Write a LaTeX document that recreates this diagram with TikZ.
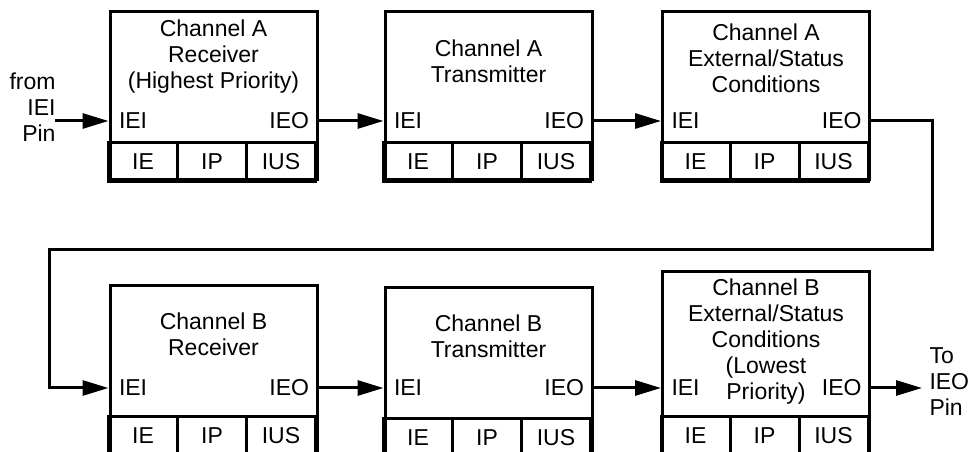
\documentclass[tikz,border=0pt]{standalone}
\usepackage{fontspec}
\setmainfont{Liberation Sans}
\usetikzlibrary{arrows.meta,positioning}

\begin{document}
\begin{tikzpicture}[x=1pt,y=1pt,line width=3pt,
		every node/.style={font=\fontsize{23}{26}\selectfont},
		>={Triangle[length=26pt,width=15pt]}]
		\tikzstyle{block}=[draw, minimum width=207pt, minimum height=168pt, inner sep=0pt]
		\tikzstyle{cell}=[draw, minimum width=69pt, minimum height=39pt, inner sep=0pt, outer sep=0pt]
		\tikzstyle{title}=[align=center, inner sep=0pt]
		\tikzstyle{port}=[inner sep=0pt]
		
		\useasboundingbox (0,0) rectangle (969,452);
		\coordinate (rowA) at (0,331);
		\coordinate (rowB) at (0,64);
		
		\node[block] (ra) at (213.5,356) {};
		\node[block] (ta) at (488.5,356) {};
		\node[block] (sa) at (766,356) {};
		\node[block] (rb) at (213.5,82) {};
		\node[block] (tb) at (488.5,80) {};
		\node[block, minimum height=182pt] (sb) at (766,89) {};
		
		\node[title] (ra-t) at (213.5,395) {Channel A\\Receiver\\(Highest Priority)};
		\node[title] (ta-t) at (488.5,391) {Channel A\\Transmitter};
		\node[title] (sa-t) at (766,394) {Channel A\\External/Status\\Conditions};
		\node[title] (rb-t) at (213.5,118) {Channel B\\Receiver};
		\node[title] (tb-t) at (488.5,115.5) {Channel B\\Transmitter};
		\node[title] (sb-t) at (766,110) {Channel B\\External/Status\\Conditions\\(Lowest\\Priority)};
		
		\foreach \b in {ra,ta,sa,rb,tb,sb} {
			\node[cell, anchor=south west] (\b-ie) at (\b.south west) {IE};
			\node[cell, right=0pt of \b-ie] (\b-ip) {IP};
			\node[cell, right=0pt of \b-ip] (\b-ius) {IUS};
		}
		
		\foreach \b in {ra,ta,sa} {
			\coordinate (\b-in) at (\b.west |- rowA);
			\coordinate (\b-out) at (\b.east |- rowA);
		}
		\foreach \b in {rb,tb,sb} {
			\coordinate (\b-in) at (\b.west |- rowB);
			\coordinate (\b-out) at (\b.east |- rowB);
		}
		\foreach \b in {ra,ta,sa,rb,tb,sb} {
			\path (\b-in) node[port, right=9pt] (\b-iei) {IEI};
			\path (\b-out) node[port, left=8pt] (\b-ieo) {IEO};
		}
		
		\node[port, align=right, anchor=east] (src) at (57,345) {from\\IEI\\Pin};
		\node[port, align=left, anchor=west] (dst) at (928,70) {To\\IEO\\Pin};
		\coordinate (src-out) at (55,331);
		\coordinate (dst-in) at (922,64);
		\coordinate (turnR) at (932,202);
		\coordinate (turnL) at (49,202);
		
		\path[->]
		(src-out) edge (ra-in)
		(ra-out)  edge (ta-in)
		(ta-out)  edge (sa-in)
		(rb-out)  edge (tb-in)
		(tb-out)  edge (sb-in)
		(sb-out)  edge (dst-in)
		;
		\draw[->] (sa-out) -| (turnR) -- (turnL) |- (rb-in);
\end{tikzpicture}
\end{document}
